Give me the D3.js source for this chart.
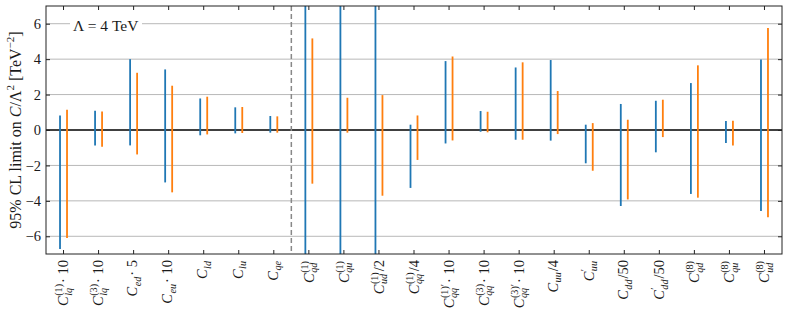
<!DOCTYPE html>
<html>
<head>
<meta charset="utf-8">
<script src="https://cdn.jsdelivr.net/npm/d3@7"></script>
<style>
  body { margin: 0; background: #fff; }
  svg text { fill: #1a1a1a; }
</style>
</head>
<body>
<div id="chart"></div>
<script>
// coefficient labels: C_{sub}^{sup} + suffix
var labelSub = ["lq", "lq", "ed", "eu", "ld", "lu", "qe", "qd", "qu", "ud", "qq", "qq", "qq", "qq", "uu", "uu", "dd", "dd", "qd", "qu", "ud"];
var labelSup = ["(1)", "(3)", "", "", "", "", "", "(1)", "(1)", "(1)", "(1)", "(1)\u2032", "(3)", "(3)\u2032", "", "\u2032", "", "\u2032", "(8)", "(8)", "(8)"];
var labelSuffix = [" \u00b7 10", " \u00b7 10", " \u00b7 5", " \u00b7 10", "", "", "", "", "", "/2", "/4", " \u00b7 10", " \u00b7 10", " \u00b7 10", "/4", "", "/50", "/50", "", "", ""];

// blue series limits
var blueHigh = [0.82, 1.09, 4.0, 3.42, 1.78, 1.28, 0.79, 15, 15, 15, 0.30, 3.89, 1.07, 3.53, 3.95, 0.30, 1.47, 1.65, 2.65, 0.51, 3.98];
var blueLow = [-6.72, -0.87, -0.87, -2.96, -0.30, -0.19, -0.15, -15, -15, -15, -3.27, -0.76, -0.10, -0.55, -0.60, -1.88, -4.29, -1.26, -3.61, -0.74, -4.57];
// orange series limits
var orangeHigh = [1.15, 1.05, 3.23, 2.50, 1.88, 1.30, 0.77, 5.17, 1.82, 1.97, 0.82, 4.15, 1.03, 3.82, 2.20, 0.39, 0.58, 1.71, 3.65, 0.52, 5.76];
var orangeLow = [-6.09, -0.94, -1.38, -3.52, -0.25, -0.17, -0.15, -3.03, -0.15, -3.71, -1.69, -0.59, -0.13, -0.55, -0.23, -2.30, -3.92, -0.40, -3.82, -0.87, -4.93];

var yTicks = [-6, -4, -2, 0, 2, 4, 6];
var dividerAfter = 6; // dashed line between C_qe and C_qd^(1)

var FONT = "'Liberation Serif', serif";

var margin = { top: 6, right: 7, bottom: 62, left: 46 },
  width = 789 - margin.left - margin.right,
  height = 316 - margin.top - margin.bottom;

var svg = d3.select("#chart")
  .append("svg")
  .attr("width", 789)
  .attr("height", 316)
  .append("g")
  .attr("transform", "translate(" + margin.left + "," + margin.top + ")");

var x = d3.scaleBand()
  .domain(d3.range(labelSub.length))
  .range([0, width]);

var y = d3.scaleLinear()
  .domain([-7, 7])
  .range([height, 0]);

function cx(i) { return x(i) + x.bandwidth() / 2; }

svg.append("clipPath").attr("id", "clip")
  .append("rect").attr("width", width).attr("height", height);

// grid
svg.append("g")
  .selectAll("line")
  .data(yTicks.filter(function (d) { return d != 0; }))
  .enter().append("line")
  .attr("x1", 0).attr("x2", width)
  .attr("y1", function (d) { return y(d); })
  .attr("y2", function (d) { return y(d); })
  .attr("stroke", "#b8b8b8")
  .attr("stroke-width", 1);

// zero line
svg.append("line")
  .attr("x1", 0).attr("x2", width)
  .attr("y1", y(0)).attr("y2", y(0))
  .attr("stroke", "#000")
  .attr("stroke-width", 1.6);

// dashed divider
var xd = (cx(dividerAfter) + cx(dividerAfter + 1)) / 2;
svg.append("line")
  .attr("x1", xd).attr("x2", xd)
  .attr("y1", 0).attr("y2", height)
  .attr("stroke", "#888")
  .attr("stroke-width", 1.5)
  .attr("stroke-dasharray", "5,3");

// limit lines
var bars = svg.append("g").attr("clip-path", "url(#clip)");
bars.selectAll(".blue")
  .data(blueHigh)
  .enter().append("line")
  .attr("x1", function (d, i) { return cx(i) - 3.5; })
  .attr("x2", function (d, i) { return cx(i) - 3.5; })
  .attr("y1", function (d) { return y(d); })
  .attr("y2", function (d, i) { return y(blueLow[i]); })
  .attr("stroke", "#1f77b4")
  .attr("stroke-width", 1.8);

bars.selectAll(".orange")
  .data(orangeHigh)
  .enter().append("line")
  .attr("x1", function (d, i) { return cx(i) + 3.5; })
  .attr("x2", function (d, i) { return cx(i) + 3.5; })
  .attr("y1", function (d) { return y(d); })
  .attr("y2", function (d, i) { return y(orangeLow[i]); })
  .attr("stroke", "#ff7f0e")
  .attr("stroke-width", 1.8);

// axes with inward ticks
var yAxis = svg.append("g")
  .call(d3.axisLeft(y).tickValues(yTicks).tickSizeInner(-4).tickSizeOuter(0).tickPadding(5));
yAxis.attr("font-family", FONT).attr("font-size", 14.5);

svg.append("g")
  .attr("transform", "translate(" + width + ",0)")
  .call(d3.axisRight(y).tickValues(yTicks).tickSizeInner(-4).tickSizeOuter(0).tickFormat(""));

svg.append("g")
  .attr("transform", "translate(0," + height + ")")
  .call(d3.axisBottom(x).tickSizeInner(-4).tickSizeOuter(0).tickFormat(""));

svg.append("g")
  .call(d3.axisTop(x).tickSizeInner(-4).tickSizeOuter(0).tickFormat(""));

svg.selectAll(".domain").attr("stroke", "none");
svg.selectAll(".tick line").attr("stroke", "#222");

svg.append("rect")
  .attr("width", width).attr("height", height)
  .attr("fill", "none")
  .attr("stroke", "#222")
  .attr("stroke-width", 1);

// x tick labels, rotated
var fs = 14.5;
svg.append("g")
  .attr("font-family", FONT)
  .selectAll("g")
  .data(labelSub)
  .enter().append("g")
  .attr("transform", function (d, i) { return "translate(" + cx(i) + "," + (height + 6) + ") rotate(-90)"; })
  .each(function (sub, i) {
    var inner = d3.select(this).append("g");
    var c = inner.append("text").attr("x", 0).attr("y", 0)
      .attr("font-size", fs).attr("font-style", "italic").text("C");
    var pos = c.node().getComputedTextLength() + 0.5;
    var ws = 0, wp = 0;
    var s = inner.append("text").attr("x", pos).attr("y", 3.5)
      .attr("font-size", fs * 0.7).attr("font-style", "italic").text(sub);
    ws = s.node().getComputedTextLength();
    if (labelSup[i]) {
      var p = inner.append("text").attr("x", pos).attr("y", -6)
        .attr("font-size", fs * 0.7).text(labelSup[i]);
      wp = p.node().getComputedTextLength();
    }
    pos += Math.max(ws, wp) + 1;
    if (labelSuffix[i]) {
      var t = inner.append("text").attr("x", pos).attr("y", 0)
        .attr("font-size", fs).text(labelSuffix[i]);
      pos += t.node().getComputedTextLength();
    }
    var bb = inner.node().getBBox();
    inner.attr("transform", "translate(" + (-pos) + "," + (-(bb.y + bb.height / 2)) + ")");
  });

// y label
var yl = svg.append("text")
  .attr("transform", "translate(" + (15 - margin.left) + "," + (height / 2) + ") rotate(-90)")
  .attr("text-anchor", "middle")
  .attr("dominant-baseline", "central")
  .attr("font-family", FONT)
  .attr("font-size", 16);
yl.append("tspan").text("95% CL limit on ");
yl.append("tspan").attr("font-style", "italic").text("C");
yl.append("tspan").text("/\u039b");
yl.append("tspan").attr("dy", -5).attr("font-size", 11).text("2");
yl.append("tspan").attr("dy", 5).text(" [TeV");
yl.append("tspan").attr("dy", -5).attr("font-size", 11).text("\u22122");
yl.append("tspan").attr("dy", 5).text("]");

// annotation box
svg.append("rect")
  .attr("x", 24).attr("y", 11)
  .attr("width", 72).attr("height", 21)
  .attr("fill", "#fff");
svg.append("text")
  .attr("x", 27).attr("y", 24.5)
  .attr("font-family", FONT)
  .attr("font-size", 15.5)
  .text("\u039b = 4 TeV");
</script>
</body>
</html>
